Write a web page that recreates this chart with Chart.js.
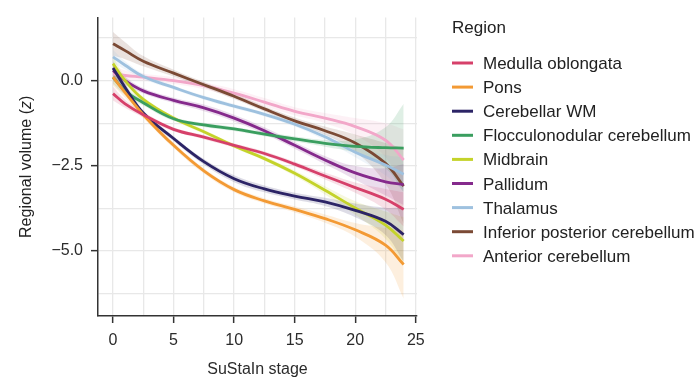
<!DOCTYPE html>
<html>
<head>
<meta charset="utf-8">
<script src="https://cdn.jsdelivr.net/npm/chart.js@4.4.1/dist/chart.umd.min.js"></script>
<style>
  html, body { margin: 0; padding: 0; background: #fff; }
  canvas { display: block; }
</style>
</head>
<body>
<canvas id="stageChart" width="698" height="381"></canvas>
<script>
// SuStaIn stage sample points
const stages = [0, 1, 2.5, 5, 7.5, 10, 12.5, 15, 17.5, 20, 22.5, 24];

const regions = [
  "Medulla oblongata", "Pons", "Cerebellar WM", "Flocculonodular cerebellum",
  "Midbrain", "Pallidum", "Thalamus", "Inferior posterior cerebellum", "Anterior cerebellum"
];
const colors = ["#d6406a", "#f39a34", "#2c2466", "#3a9e5f", "#c4d32a", "#852a8c", "#9ec1df", "#7b4a35", "#f2a7c9"];

// fitted regional volume (z) per region
const medulla      = [-0.38, -0.68, -1.0, -1.43, -1.66, -1.9, -2.14, -2.45, -2.8, -3.14, -3.48, -3.78];
const pons         = [0.1, -0.35, -1.0, -1.9, -2.65, -3.2, -3.53, -3.78, -4.05, -4.38, -4.83, -5.4];
const cerebellarWM = [0.37, -0.2, -0.95, -1.7, -2.38, -2.88, -3.18, -3.39, -3.56, -3.81, -4.13, -4.52];
const flocculo     = [0.1, -0.3, -0.65, -1.12, -1.3, -1.42, -1.57, -1.71, -1.84, -1.93, -1.97, -1.98];
const midbrain     = [0.5, 0.0, -0.55, -1.1, -1.5, -1.92, -2.29, -2.72, -3.22, -3.74, -4.24, -4.71];
const pallidum     = [0.3, 0.0, -0.3, -0.58, -0.8, -1.1, -1.47, -1.9, -2.33, -2.71, -2.97, -3.05];
const thalamus     = [0.7, 0.45, 0.12, -0.2, -0.5, -0.75, -0.99, -1.28, -1.65, -2.1, -2.48, -2.75];
const infPosterior = [1.08, 0.88, 0.57, 0.22, -0.12, -0.46, -0.83, -1.18, -1.47, -1.83, -2.43, -3.1];
const anterior     = [0.2, 0.15, 0.1, 0.0, -0.15, -0.37, -0.63, -0.9, -1.1, -1.35, -1.75, -2.33];

// confidence band half widths
const medullaCi      = [0.2, 0.12, 0.08, 0.06, 0.06, 0.06, 0.06, 0.07, 0.1, 0.15, 0.3, 0.5];
const ponsCi         = [0.25, 0.15, 0.1, 0.08, 0.08, 0.08, 0.08, 0.09, 0.12, 0.2, 0.5, 1.0];
const cerebellarWMCi = [0.2, 0.12, 0.08, 0.07, 0.08, 0.1, 0.1, 0.1, 0.12, 0.2, 0.4, 0.8];
const flocculoCi     = [0.2, 0.12, 0.08, 0.06, 0.06, 0.06, 0.06, 0.07, 0.1, 0.2, 0.6, 1.3];
const midbrainCi     = [0.2, 0.12, 0.08, 0.06, 0.06, 0.06, 0.06, 0.08, 0.12, 0.2, 0.4, 0.7];
const pallidumCi     = [0.2, 0.12, 0.08, 0.08, 0.1, 0.1, 0.1, 0.1, 0.12, 0.2, 0.4, 0.6];
const thalamusCi     = [0.2, 0.12, 0.08, 0.06, 0.06, 0.06, 0.06, 0.07, 0.1, 0.15, 0.3, 0.5];
const infPosteriorCi = [0.35, 0.25, 0.15, 0.1, 0.08, 0.08, 0.08, 0.1, 0.12, 0.25, 0.6, 1.1];
const anteriorCi     = [0.25, 0.15, 0.1, 0.1, 0.1, 0.12, 0.12, 0.12, 0.15, 0.25, 0.5, 0.9];

const xTicks = [0, 2.5, 5, 7.5, 10, 12.5, 15, 17.5, 20, 22.5, 25];
const xTickLabels = ["0", "", "5", "", "10", "", "15", "", "20", "", "25"];
const yTicks = [1.25, 0, -1.25, -2.5, -3.75, -5, -6.25];
const yTickLabels = ["", "0.0", "", "\u22122.5", "", "\u22125.0", ""];

const series = [medulla, pons, cerebellarWM, flocculo, midbrain, pallidum, thalamus, infPosterior, anterior];
const bands = [medullaCi, ponsCi, cerebellarWMCi, flocculoCi, midbrainCi, pallidumCi, thalamusCi, infPosteriorCi, anteriorCi];

const FONT = '"Liberation Sans", Arial, Helvetica, sans-serif';

function hexAlpha(hex, a) {
  const n = parseInt(hex.slice(1), 16);
  return `rgba(${(n >> 16) & 255}, ${(n >> 8) & 255}, ${n & 255}, ${a})`;
}

const datasets = [];
series.forEach((vals, i) => {
  const common = { pointRadius: 0, borderWidth: 0, tension: 0.4, order: 1 };
  datasets.push({ ...common, label: "lo", data: stages.map((x, j) => ({ x, y: vals[j] - bands[i][j] })), fill: false });
  datasets.push({ ...common, label: "hi", data: stages.map((x, j) => ({ x, y: vals[j] + bands[i][j] })),
    fill: "-1", backgroundColor: hexAlpha(colors[i], 0.16) });
});
series.forEach((vals, i) => {
  datasets.push({
    label: regions[i],
    data: stages.map((x, j) => ({ x, y: vals[j] })),
    borderColor: colors[i],
    borderWidth: 2.8,
    pointRadius: 0,
    fill: false,
    tension: 0.4,
    order: 0,
  });
});

// legend on the right + y title with italic z
const decorations = {
  id: "decorations",
  afterDraw(chart) {
    const ctx = chart.ctx;
    ctx.save();
    ctx.fillStyle = "#222";
    ctx.font = "17px " + FONT;
    ctx.textBaseline = "alphabetic";
    ctx.fillText("Region", 452, 33);
    regions.forEach((name, i) => {
      const y = 63 + i * 24.1;
      ctx.strokeStyle = colors[i];
      ctx.lineWidth = 3;
      ctx.beginPath();
      ctx.moveTo(452, y);
      ctx.lineTo(473, y);
      ctx.stroke();
      ctx.fillText(name, 483, y + 6);
    });

    // y axis title
    const normal = "16px " + FONT;
    const italic = "italic 16px " + FONT;
    const parts = [["Regional volume (", normal], ["z", italic], [")", normal]];
    let total = 0;
    parts.forEach(p => { ctx.font = p[1]; total += ctx.measureText(p[0]).width; });
    ctx.translate(31, (chart.chartArea.top + chart.chartArea.bottom) / 2);
    ctx.rotate(-Math.PI / 2);
    ctx.textBaseline = "alphabetic";
    let x = -total / 2;
    parts.forEach(p => {
      ctx.font = p[1];
      ctx.fillText(p[0], x, 0);
      x += ctx.measureText(p[0]).width;
    });
    ctx.restore();
  }
};

const ctx = document.getElementById("stageChart").getContext("2d");
const stageChart = new Chart(ctx, {
  type: "line",
  data: { datasets },
  plugins: [decorations],
  options: {
    responsive: false,
    animation: false,
    layout: { padding: { left: 52, top: 10, right: 281, bottom: 0 } },
    plugins: { legend: { display: false }, tooltip: { enabled: false } },
    scales: {
      x: {
        type: "linear",
        min: -1.24,
        max: 25.1,
        afterBuildTicks: (scale) => { scale.ticks = xTicks.map(v => ({ value: v })); },
        afterFit: (scale) => { scale.height = 65; },
        ticks: {
          autoSkip: false,
          maxRotation: 0,
          padding: 8,
          color: "#2b2b2b",
          font: { family: FONT, size: 16 },
          callback: (v) => xTickLabels[xTicks.indexOf(v)],
        },
        grid: {
          color: "#e8e8e8",
          lineWidth: 1.3,
          tickLength: 7,
          tickWidth: 1.5,
          tickColor: (c) => (c.tick && c.tick.value % 5 === 0) ? "#333" : "rgba(0,0,0,0)",
        },
        border: { display: true, color: "#333", width: 1.5 },
        title: {
          display: true,
          text: "SuStaIn stage",
          color: "#2b2b2b",
          font: { family: FONT, size: 16 },
          padding: { top: 0, bottom: 2 },
        },
      },
      y: {
        type: "linear",
        min: -6.91,
        max: 1.85,
        afterBuildTicks: (scale) => { scale.ticks = yTicks.map(v => ({ value: v })); },
        afterFit: (scale) => { scale.width = 46; },
        ticks: {
          autoSkip: false,
          padding: 8,
          color: "#2b2b2b",
          font: { family: FONT, size: 16 },
          callback: (v) => yTickLabels[yTicks.indexOf(v)],
        },
        grid: {
          color: "#e8e8e8",
          lineWidth: 1.3,
          tickLength: 7,
          tickWidth: 1.5,
          tickColor: (c) => (c.tick && c.tick.value % 2.5 === 0) ? "#333" : "rgba(0,0,0,0)",
        },
        border: { display: true, color: "#333", width: 1.5 },
      },
    },
  },
});
</script>
</body>
</html>
